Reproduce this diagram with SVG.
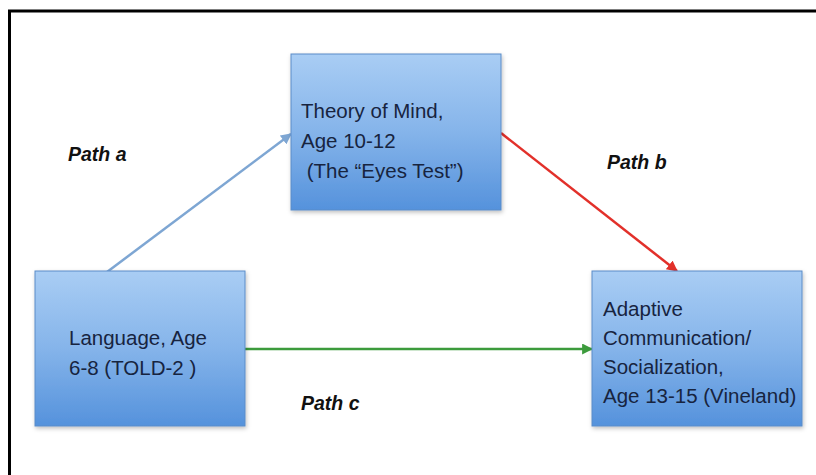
<svg xmlns="http://www.w3.org/2000/svg" width="816" height="475" viewBox="0 0 816 475">
<defs>
<linearGradient id="boxg" x1="0" y1="0" x2="0" y2="1">
<stop offset="0" stop-color="#a9cdf4"/>
<stop offset="0.5" stop-color="#85b4ea"/>
<stop offset="1" stop-color="#5592dc"/>
</linearGradient>
<filter id="sh" x="-10%" y="-10%" width="130%" height="130%">
<feDropShadow dx="1" dy="2" stdDeviation="2" flood-color="#000" flood-opacity="0.25"/>
</filter>
<marker id="ma" viewBox="0 0 10 10" refX="9" refY="5" markerWidth="11" markerHeight="11" markerUnits="userSpaceOnUse" orient="auto">
<path d="M0,0 L10,5 L0,10 z" fill="#7ea6d3"/>
</marker>
<marker id="mb" viewBox="0 0 10 10" refX="9" refY="5" markerWidth="11" markerHeight="11" markerUnits="userSpaceOnUse" orient="auto">
<path d="M0,0 L10,5 L0,10 z" fill="#e2302a"/>
</marker>
<marker id="mc" viewBox="0 0 10 10" refX="9" refY="5" markerWidth="11" markerHeight="11" markerUnits="userSpaceOnUse" orient="auto">
<path d="M0,0 L10,5 L0,10 z" fill="#3c9b3c"/>
</marker>
</defs>
<style>
.box{fill:url(#boxg);stroke:#5a8cc8;stroke-width:1;filter:url(#sh)}
.t{font-family:"Liberation Sans",Arial,sans-serif;font-size:20.5px;fill:#17243f}
.lbl{font-family:"Liberation Sans",Arial,sans-serif;font-size:19.5px;font-weight:bold;font-style:italic;fill:#111}
.c{fill:none;stroke-width:2.5}
</style>
<rect width="816" height="475" fill="#fff"/>
<path d="M9.5,475 V11 H816" fill="none" stroke="#000" stroke-width="3"/>
<g id="connectors">
<line class="c" x1="107" y1="272" x2="291" y2="134" stroke="#7ea6d3" marker-end="url(#ma)"/>
<line class="c" x1="501" y1="133" x2="677" y2="271" stroke="#e2302a" marker-end="url(#mb)"/>
<line class="c" x1="245" y1="349" x2="592" y2="349" stroke="#3c9b3c" marker-end="url(#mc)"/>
</g>
<g id="node-tom">
<rect class="box" x="291" y="54" width="210" height="156"/>
<text class="t" x="301" y="118">Theory of Mind,</text>
<text class="t" x="301" y="148">Age 10-12</text>
<text class="t" x="301" y="178" xml:space="preserve"> (The “Eyes Test”)</text>
</g>
<g id="node-language">
<rect class="box" x="35" y="271" width="210" height="155"/>
<text class="t" x="69" y="345">Language, Age</text>
<text class="t" x="69" y="375">6-8 (TOLD-2 )</text>
</g>
<g id="node-adaptive">
<rect class="box" x="592" y="271" width="210" height="155"/>
<text class="t" x="603" y="316">Adaptive</text>
<text class="t" x="603" y="345">Communication/</text>
<text class="t" x="603" y="374">Socialization,</text>
<text class="t" x="603" y="403">Age 13-15 (Vineland)</text>
</g>
<g id="labels">
<text class="lbl" x="68" y="161">Path a</text>
<text class="lbl" x="607" y="169">Path b</text>
<text class="lbl" x="301" y="410">Path c</text>
</g>
</svg>
